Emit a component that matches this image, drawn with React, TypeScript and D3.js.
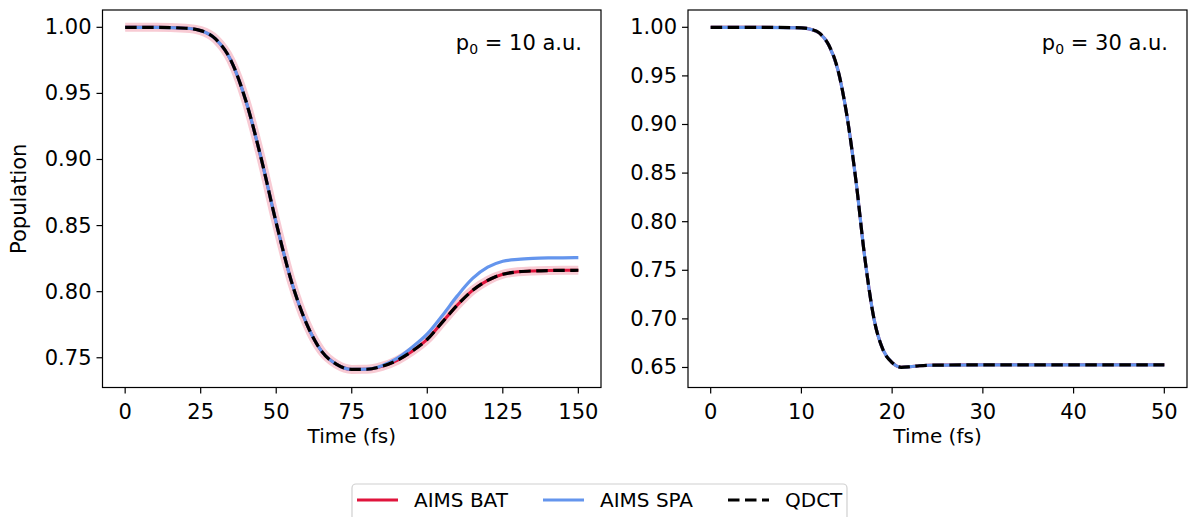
import React from "react";
import * as d3 from "d3";

// ---- Data ----
const tLeft = [0, 10, 20, 25, 30, 35, 40, 45, 50, 55, 60, 65, 70, 75, 80, 85, 90, 95, 100, 105, 110, 115, 120, 125, 130, 135, 140, 150];
const batLeft = [1.0, 1.0, 0.9993, 0.9975, 0.991, 0.975, 0.944, 0.901, 0.852, 0.808, 0.776, 0.755, 0.745, 0.7412, 0.7413, 0.7435, 0.748, 0.755, 0.764, 0.777, 0.79, 0.801, 0.8085, 0.8132, 0.815, 0.8157, 0.816, 0.8162];
const spaLeft = [1.0, 1.0, 0.9993, 0.9975, 0.991, 0.975, 0.944, 0.901, 0.852, 0.808, 0.776, 0.755, 0.745, 0.7412, 0.7414, 0.744, 0.7495, 0.758, 0.768, 0.782, 0.797, 0.810, 0.8185, 0.823, 0.8245, 0.8252, 0.8255, 0.8257];
const qdctLeft = [1.0, 1.0, 0.9993, 0.9975, 0.991, 0.975, 0.944, 0.901, 0.852, 0.808, 0.776, 0.755, 0.745, 0.7412, 0.7413, 0.7435, 0.748, 0.755, 0.764, 0.777, 0.79, 0.801, 0.8085, 0.8132, 0.815, 0.8157, 0.816, 0.8162];

const tRight = [0, 5, 10, 11, 12, 13, 14, 15, 16, 17, 18, 19, 20, 21, 22, 23, 24, 26, 30, 40, 50];
const batRight = [1.0, 1.0, 0.9995, 0.998, 0.994, 0.982, 0.957, 0.91, 0.843, 0.762, 0.70, 0.668, 0.655, 0.6502, 0.6508, 0.6518, 0.6523, 0.6525, 0.6527, 0.6527, 0.6527];
const spaRight = [1.0, 1.0, 0.9995, 0.998, 0.994, 0.982, 0.957, 0.91, 0.843, 0.762, 0.70, 0.668, 0.655, 0.6502, 0.6508, 0.6518, 0.6523, 0.6525, 0.6527, 0.6527, 0.6527];
const qdctRight = [1.0, 1.0, 0.9995, 0.998, 0.994, 0.982, 0.957, 0.91, 0.843, 0.762, 0.70, 0.668, 0.655, 0.6502, 0.6508, 0.6518, 0.6523, 0.6525, 0.6527, 0.6527, 0.6527];

const xTicksLeft = [0, 25, 50, 75, 100, 125, 150];
const yTicksLeft = [0.75, 0.8, 0.85, 0.9, 0.95, 1.0];
const xTicksRight = [0, 10, 20, 30, 40, 50];
const yTicksRight = [0.65, 0.7, 0.75, 0.8, 0.85, 0.9, 0.95, 1.0];

const seriesNames = ["AIMS BAT", "AIMS SPA", "QDCT"];

const RED = "#e0143c";
const BLUE = "#6495ed";
const FONT = "DejaVu Sans, sans-serif";
const FS = 21;
const LFS = 20;

type PanelProps = {
  x0: number; x1: number; y0: number; y1: number;
  xDom: [number, number]; yDom: [number, number];
  t: number[]; bat: number[]; spa: number[]; qdct: number[];
  xTicks: number[]; yTicks: number[];
  label: string; band: boolean; ylabel?: string;
};

function Panel(p: PanelProps) {
  const xs = d3.scaleLinear().domain(p.xDom).range([p.x0, p.x1]);
  const ys = d3.scaleLinear().domain(p.yDom).range([p.y1, p.y0]);
  const line = (vals: number[]) =>
    d3.line<number>().x((_, i) => xs(p.t[i])).y((v) => ys(v)).curve(d3.curveMonotoneX)(vals) || "";
  const clipId = "clip" + Math.round(p.x0);
  return (
    <g>
      <defs>
        <clipPath id={clipId}>
          <rect x={p.x0} y={p.y0} width={p.x1 - p.x0} height={p.y1 - p.y0} />
        </clipPath>
      </defs>
      <g clipPath={`url(#${clipId})`}>
        {p.band && <path d={line(p.bat)} fill="none" stroke={RED} strokeOpacity={0.22} strokeWidth={9} />}
        <path d={line(p.bat)} fill="none" stroke={RED} strokeWidth={3} />
        <path d={line(p.spa)} fill="none" stroke={BLUE} strokeWidth={3.2} />
        <path d={line(p.qdct)} fill="none" stroke="#000" strokeWidth={3.2} strokeDasharray="11.5,5.5" />
      </g>
      <rect x={p.x0} y={p.y0} width={p.x1 - p.x0} height={p.y1 - p.y0} fill="none" stroke="#000" strokeWidth={1.2} />
      {p.xTicks.map((v) => (
        <g key={"x" + v}>
          <line x1={xs(v)} x2={xs(v)} y1={p.y1} y2={p.y1 + 6} stroke="#000" strokeWidth={1.2} />
          <text x={xs(v)} y={p.y1 + 25} textAnchor="middle" fontFamily={FONT} fontSize={FS} dominantBaseline="middle" fill="#000">
            {String(v)}
          </text>
        </g>
      ))}
      {p.yTicks.map((v) => (
        <g key={"y" + v}>
          <line x1={p.x0 - 6} x2={p.x0} y1={ys(v)} y2={ys(v)} stroke="#000" strokeWidth={1.2} />
          <text x={p.x0 - 11} y={ys(v)} textAnchor="end" dominantBaseline="central" fontFamily={FONT} fontSize={FS} fill="#000">
            {d3.format(".2f")(v)}
          </text>
        </g>
      ))}
      <text x={(p.x0 + p.x1) / 2} y={p.y1 + 50} textAnchor="middle" dominantBaseline="middle" fontFamily={FONT} fontSize={LFS} fill="#000">
        Time (fs)
      </text>
      {p.ylabel && (
        <text transform={`translate(20,${(p.y0 + p.y1) / 2}) rotate(-90)`} textAnchor="middle" dominantBaseline="middle" fontFamily={FONT} fontSize={FS} fill="#000">
          {p.ylabel}
        </text>
      )}
      <text x={p.x1 - 19} y={p.y0 + 40} textAnchor="end" fontFamily={FONT} fontSize={FS} fill="#000">
        p<tspan fontSize={14} dy={4}>0</tspan><tspan dy={-4}> = {p.label} a.u.</tspan>
      </text>
    </g>
  );
}

export default function App() {
  const legendItems = [
    { name: seriesNames[0], color: RED, dash: "", x: 357 },
    { name: seriesNames[1], color: BLUE, dash: "", x: 543 },
    { name: seriesNames[2], color: "#000", dash: "11.5,5.5", x: 728 },
  ];
  return (
    <svg width={1192} height={517} style={{ position: "absolute", left: 0, top: 0, background: "#fff" }}>
      <rect width={1192} height={517} fill="#fff" />
      <Panel x0={102.5} x1={601} y0={10} y1={387.5} xDom={[-7.5, 157.5]} yDom={[0.7275, 1.0131]}
        t={tLeft} bat={batLeft} spa={spaLeft} qdct={qdctLeft}
        xTicks={xTicksLeft} yTicks={yTicksLeft} label="10" band={true} ylabel="Population" />
      <Panel x0={688} x1={1187} y0={10} y1={387.5} xDom={[-2.5, 52.5]} yDom={[0.6294, 1.0178]}
        t={tRight} bat={batRight} spa={spaRight} qdct={qdctRight}
        xTicks={xTicksRight} yTicks={yTicksRight} label="30" band={false} />
      <rect x={352} y={484} width={495} height={50} rx={4} fill="#fff" stroke="#d0d0d0" strokeWidth={1.2} />
      {legendItems.map((it) => (
        <g key={it.name}>
          <line x1={it.x} x2={it.x + 41} y1={500} y2={500} stroke={it.color} strokeWidth={3.2} strokeDasharray={it.dash || undefined} />
          <text x={it.x + 57} y={500} dominantBaseline="central" fontFamily={FONT} fontSize={LFS} fill="#000">
            {it.name}
          </text>
        </g>
      ))}
    </svg>
  );
}
